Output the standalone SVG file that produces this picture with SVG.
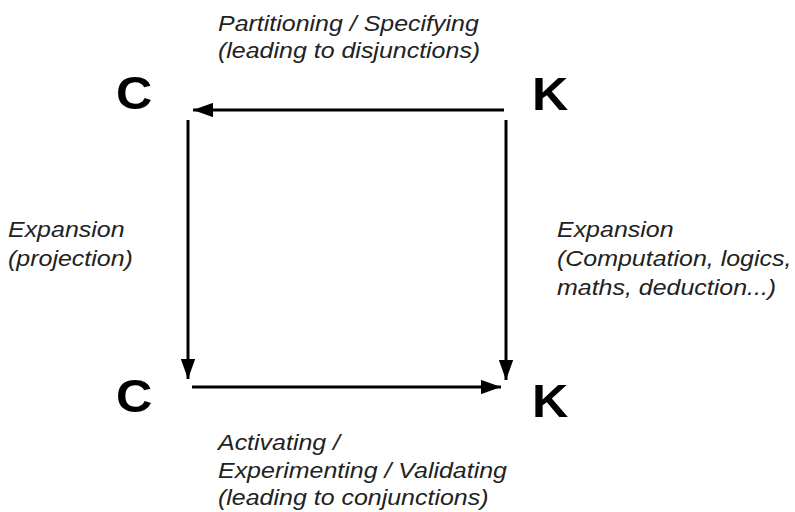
<svg xmlns="http://www.w3.org/2000/svg" width="795" height="512" viewBox="0 0 795 512">
  <defs>
    <marker id="arrow" viewBox="0 0 10 10" refX="10" refY="5" markerWidth="6.7" markerHeight="4.8" markerUnits="strokeWidth" orient="auto" preserveAspectRatio="none">
      <path d="M0,0 L10,5 L0,10 z" fill="#000"/>
    </marker>
  </defs>
  <style>
    .node { font-family: "Liberation Sans", Arial, sans-serif; font-weight: bold; font-size: 47px; fill: #000; }
    .label { font-family: "Liberation Sans", Arial, sans-serif; font-style: italic; font-size: 22.5px; fill: #222; }
    .edge { stroke: #000; stroke-width: 3; fill: none; marker-end: url(#arrow); }
  </style>
  <rect width="795" height="512" fill="#fff"/>

  <g id="connectors">
    <line class="edge" x1="504" y1="110" x2="193" y2="110"/>
    <line class="edge" x1="188" y1="120" x2="188" y2="379"/>
    <line class="edge" x1="506" y1="120" x2="506" y2="380"/>
    <line class="edge" x1="192" y1="387" x2="501" y2="387"/>
  </g>

  <g id="node-c-top"><text class="node" transform="translate(116,109) scale(1.07,1)">C</text></g>
  <g id="node-k-top"><text class="node" transform="translate(532,110) scale(1.07,1)">K</text></g>
  <g id="node-c-bottom"><text class="node" transform="translate(116,412) scale(1.07,1)">C</text></g>
  <g id="node-k-bottom"><text class="node" transform="translate(532,417) scale(1.07,1)">K</text></g>

  <g id="label-top" transform="translate(218,0) scale(1.11,1)">
    <text class="label" x="0" y="31">Partitioning / Specifying</text>
    <text class="label" x="0" y="58">(leading to disjunctions)</text>
  </g>
  <g id="label-left" transform="translate(8,0) scale(1.11,1)">
    <text class="label" x="0" y="237">Expansion</text>
    <text class="label" x="0" y="266">(projection)</text>
  </g>
  <g id="label-right" transform="translate(557,0) scale(1.11,1)">
    <text class="label" x="0" y="237">Expansion</text>
    <text class="label" x="0" y="266">(Computation, logics,</text>
    <text class="label" x="0" y="295">maths, deduction...)</text>
  </g>
  <g id="label-bottom" transform="translate(218,0) scale(1.11,1)">
    <text class="label" x="0" y="450">Activating /</text>
    <text class="label" x="0" y="478">Experimenting / Validating</text>
    <text class="label" x="0" y="505">(leading to conjunctions)</text>
  </g>
</svg>
